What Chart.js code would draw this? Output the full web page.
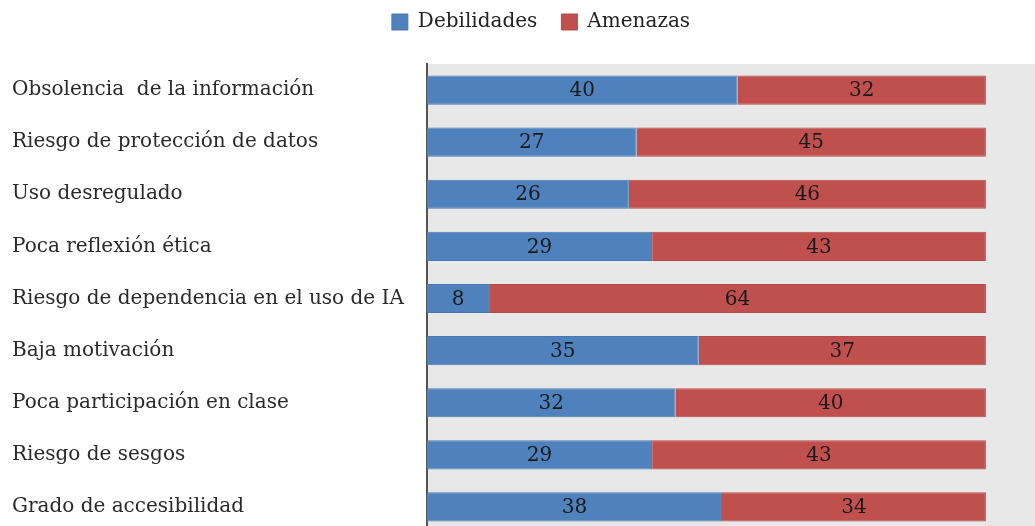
<!DOCTYPE html>
<html lang="es">
<head>
<meta charset="utf-8">
<script src="https://cdn.jsdelivr.net/npm/chart.js@4.4.1/dist/chart.umd.min.js"></script>
<style>
  html, body { margin: 0; padding: 0; background: #fff; overflow: hidden; }
  #wrap { position: relative; width: 1048px; height: 557px; margin-top: -12px; }
</style>
</head>
<body>
<div id="wrap"><canvas id="chartFoda"></canvas></div>
<script>
// ═══════════ DATOS ═══════════
const categorias = [
  'Obsolencia  de la información',
  'Riesgo de protección de datos',
  'Uso desregulado',
  'Poca reflexión ética',
  'Riesgo de dependencia en el uso de IA',
  'Baja motivación',
  'Poca participación en clase',
  'Riesgo de sesgos',
  'Grado de accesibilidad'
];
const debilidades = [40, 27, 26, 29, 8, 35, 32, 29, 38];
const amenazas = [32, 45, 46, 43, 64, 37, 40, 43, 34];

const FUENTE = "'DejaVu Serif', 'Liberation Serif', serif";

// ═══════════ PLUGINS ═══════════
// leyenda: más espacio debajo y un poco corrida a la derecha
const ajusteLeyenda = {
  id: 'ajusteLeyenda',
  beforeInit(chart) {
    const lg = chart.legend;
    const fit = lg.fit;
    const draw = lg.draw;
    lg.fit = function () {
      fit.call(lg);
      lg.height = 76;
    };
    lg.draw = function () {
      chart.ctx.save();
      chart.ctx.translate(11, 0);
      draw.call(lg);
      chart.ctx.restore();
    };
  }
};

const fondoArea = {
  id: 'fondoArea',
  beforeDraw(chart) {
    const { ctx, chartArea: a } = chart;
    ctx.save();
    ctx.fillStyle = '#e8e8e8';
    ctx.fillRect(a.left, a.top, a.right - a.left, a.bottom - a.top);
    ctx.restore();
  }
};

const etiquetas = {
  id: 'etiquetas',
  afterDatasetsDraw(chart) {
    const { ctx } = chart;
    ctx.save();
    ctx.font = `20px ${FUENTE}`;
    ctx.fillStyle = '#1a1a1a';
    ctx.textAlign = 'center';
    ctx.textBaseline = 'middle';
    chart.data.datasets.forEach((ds, i) => {
      chart.getDatasetMeta(i).data.forEach((el, j) => {
        const p = el.getCenterPoint();
        ctx.fillText(ds.data[j], p.x, p.y + 1);
      });
    });
    ctx.restore();
  }
};

// ═══════════ CHART ═══════════
new Chart(document.getElementById('chartFoda'), {
  type: 'bar',
  data: {
    labels: categorias,
    datasets: [
      {
        label: 'Debilidades',
        data: debilidades,
        backgroundColor: '#4f81bd',
        borderColor: '#4a78b0',
        borderWidth: 1,
        categoryPercentage: 1,
        barPercentage: 0.56
      },
      {
        label: 'Amenazas',
        data: amenazas,
        backgroundColor: '#c0504d',
        borderColor: '#b44a47',
        borderWidth: 1,
        categoryPercentage: 1,
        barPercentage: 0.56
      }
    ]
  },
  options: {
    indexAxis: 'y',
    responsive: true,
    maintainAspectRatio: false,
    animation: false,
    layout: { padding: { left: 12, right: 0, top: 0, bottom: 0 } },
    plugins: {
      legend: {
        position: 'top',
        labels: {
          font: { family: FUENTE, size: 20 },
          color: '#222',
          boxWidth: 16,
          boxHeight: 16,
          padding: 24
        }
      },
      tooltip: { enabled: false }
    },
    scales: {
      x: {
        stacked: true,
        display: false,
        min: 0,
        max: 80
      },
      y: {
        stacked: true,
        grid: { display: false },
        border: { display: true, color: '#555', width: 2 },
        ticks: {
          crossAlign: 'far',
          color: '#2a2a2a',
          font: { family: FUENTE, size: 20 },
          padding: 0
        },
        afterFit(scale) { scale.width = 415; }
      }
    }
  },
  plugins: [ajusteLeyenda, fondoArea, etiquetas]
});
</script>
</body>
</html>
